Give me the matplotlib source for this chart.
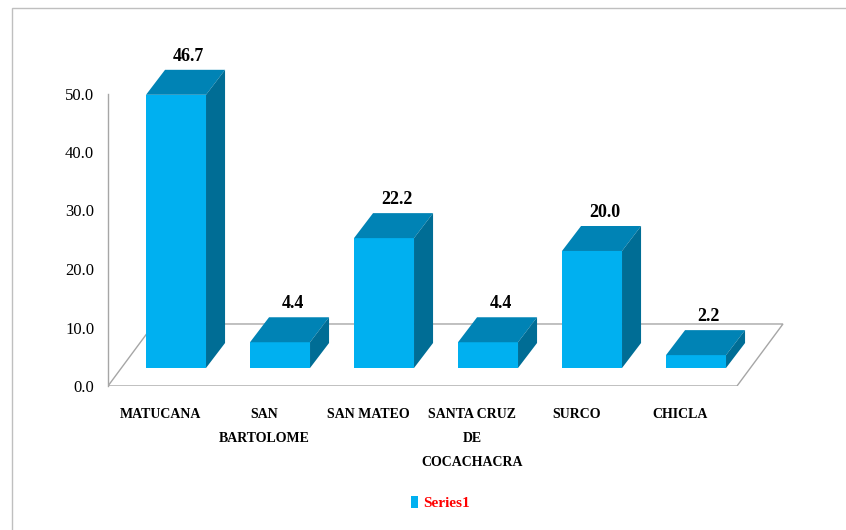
import numpy as np
import matplotlib
matplotlib.use("Agg")
import matplotlib.pyplot as plt
from matplotlib.patches import Polygon, Rectangle, Patch

# datos
categorias = ["MATUCANA", "SAN\nBARTOLOME", "SAN MATEO", "SANTA CRUZ\nDE\nCOCACHACRA", "SURCO", "CHICLA"]
valores = [46.7, 4.4, 22.2, 4.4, 20.0, 2.2]
yticks = [0, 10, 20, 30, 40, 50]
serie = "Series1"

# colores
c_front = "#00B0F0"
c_top = "#0083B5"
c_side = "#006D95"
c_grid = "#A6A6A6"

# geometria 3D oblicua (unidades de datos)
W = 0.577
DX_BAR, DY_BAR = 0.183, 4.27
DX_FL, DY_FL = 0.442, 10.6
BASE = 3.08
FL, FR = -0.654, 5.394

plt.rcParams['font.family'] = ['Liberation Serif', 'DejaVu Serif']

fig = plt.figure(figsize=(8.46, 5.30), dpi=100)
ax = fig.add_axes([108 / 846, 1 - 386 / 530, 682 / 846, 346 / 530])
ax.set_xlim(FL, FL + 682 / 104)
ax.set_ylim(0, 346 / 5.85)

x = np.arange(len(valores))

# piso
floor = Polygon([(FL, 0), (FR, 0), (FR + DX_FL, DY_FL), (FL + DX_FL, DY_FL)],
                closed=True, facecolor="white", edgecolor=c_grid, lw=1.0, zorder=1)
ax.add_patch(floor)
ax.plot([FL, FL], [0, 50], color=c_grid, lw=1.0, zorder=1, clip_on=False)

# barras
ax.bar(x, valores, width=W, bottom=BASE, color=c_front, zorder=3)
for i, v in zip(x, valores):
    x0, x1 = i - W / 2, i + W / 2
    y0, y1 = BASE, BASE + v
    top = Polygon([(x0, y1), (x1, y1), (x1 + DX_BAR, y1 + DY_BAR), (x0 + DX_BAR, y1 + DY_BAR)],
                  closed=True, facecolor=c_top, edgecolor="none", zorder=3)
    side = Polygon([(x1, y0), (x1 + DX_BAR, y0 + DY_BAR), (x1 + DX_BAR, y1 + DY_BAR), (x1, y1)],
                   closed=True, facecolor=c_side, edgecolor="none", zorder=3)
    ax.add_patch(top)
    ax.add_patch(side)
    ax.text(i + DX_BAR / 2 + 0.03, y1 + DY_BAR + 0.9, f"{v:.1f}", ha="center", va="bottom",
            fontsize=13, fontweight="bold", color="black", clip_on=False, zorder=5)

# ejes
for s in ax.spines.values():
    s.set_visible(False)
ax.set_yticks(yticks)
ax.set_yticklabels([f"{t:.1f}" for t in yticks], fontsize=12)
ax.set_xticks(x - 0.15)
ax.set_xticklabels(categorias, fontsize=10, fontweight="bold", linespacing=2.1)
ax.tick_params(axis="y", length=0, pad=10)
ax.tick_params(axis="x", length=0, pad=16)
ax.patch.set_visible(False)

# leyenda
fig.legend(handles=[Patch(facecolor=c_front, edgecolor="none")], labels=[serie],
           loc="center", bbox_to_anchor=(440 / 846, 1 - 503 / 530), frameon=False,
           handlelength=0.5, handleheight=0.9, handletextpad=0.3,
           prop={"weight": "bold", "size": 11}, labelcolor="red")

# borde
fig.patches.append(Rectangle((12 / 846, -0.1), 1.0, (530 - 8) / 530 + 0.1, transform=fig.transFigure,
                             fill=False, edgecolor="#BFBFBF", lw=1.0))

fig.savefig("out.png", dpi=100)
